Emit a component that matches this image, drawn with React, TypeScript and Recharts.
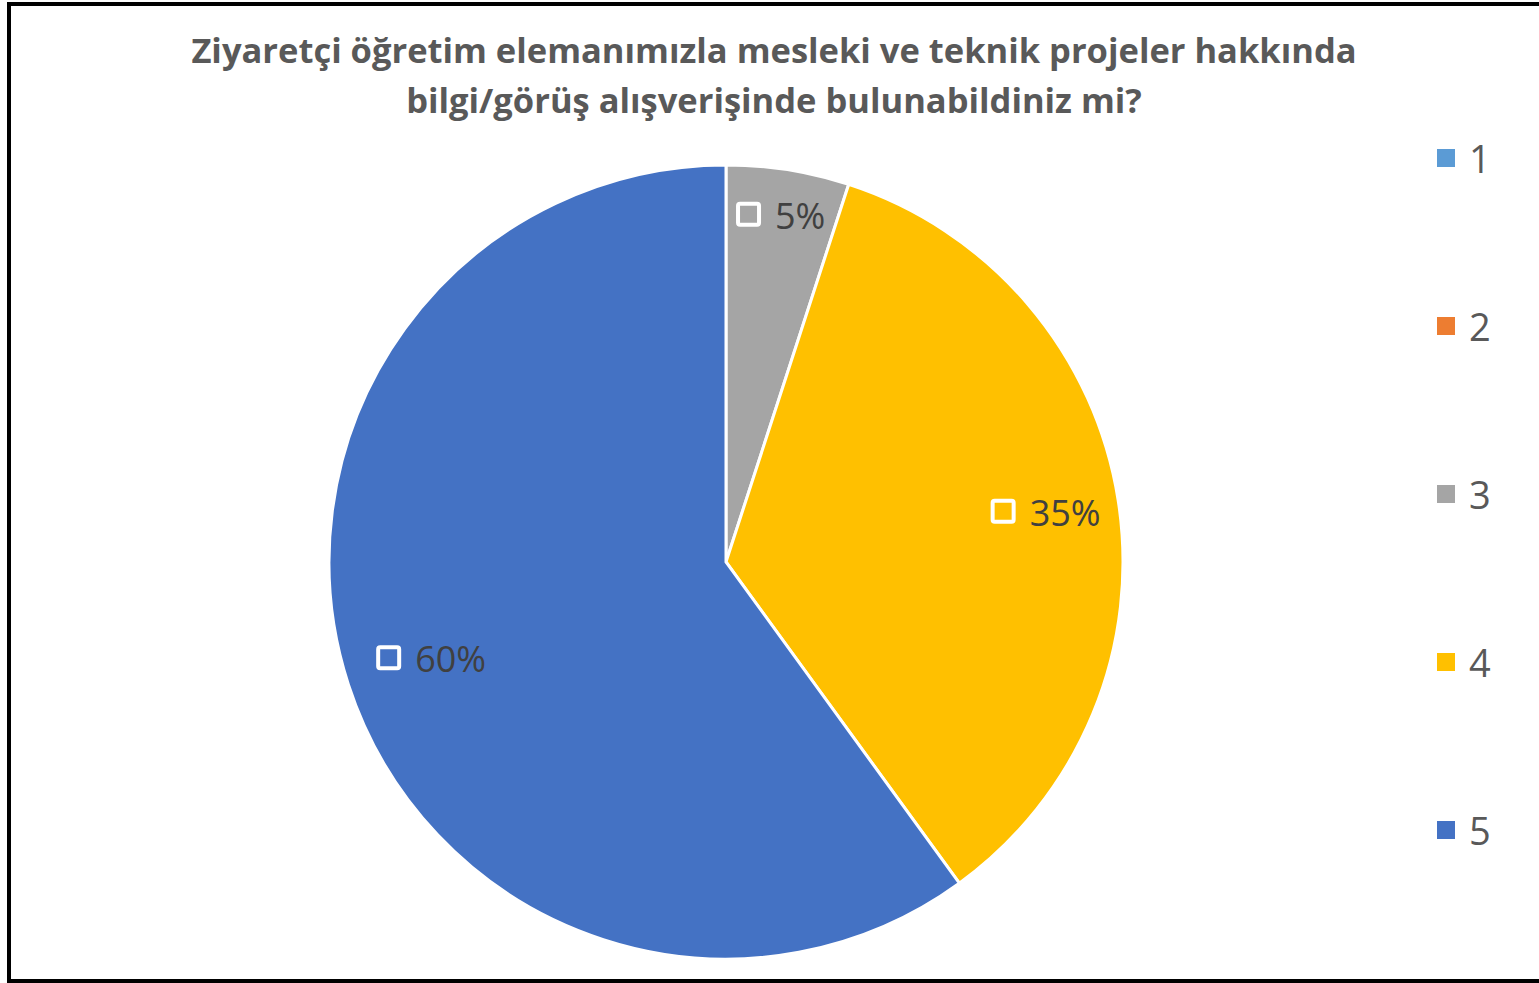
import React from 'react';
import { PieChart, Pie, Cell, Legend } from 'recharts';

const categories = ['1', '2', '3', '4', '5'];
const values = [0, 0, 5, 35, 60];
const colors = ['#5B9BD5', '#ED7D31', '#A5A5A5', '#FFC000', '#4472C4'];
const titleLines = [
  'Ziyaretçi öğretim elemanımızla mesleki ve teknik projeler hakkında',
  'bilgi/görüş alışverişinde bulunabildiniz mi?',
];

const data = categories.map((c, i) => ({ name: c, value: values[i] }));

const RAD = Math.PI / 180;
const FONT = '"Open Sans", "Noto Sans", sans-serif';
const labelRadiusFactor: Record<string, number> = { '3': 0.887, '4': 0.816, '5': 0.78 };

const renderLabel = (props: any) => {
  const { cx, cy, midAngle, outerRadius, percent, value } = props;
  const name = props.name ?? props.payload?.name;
  if (!value) return null;
  const f = labelRadiusFactor[name] ?? 0.82;
  const r = outerRadius * f;
  const x = cx + r * Math.cos(-midAngle * RAD);
  const y = cy + r * Math.sin(-midAngle * RAD);
  const text = `${Math.round(percent * 100)}%`;
  const fs = 36;
  const textW = [...text].reduce((s, ch) => s + (ch === '%' ? 0.85 : 0.57) * fs, 0);
  const sq = 25;
  const gap = 14;
  const total = sq + gap + textW;
  const left = x - total / 2;
  return (
    <g>
      <rect x={left + 2} y={y - sq / 2 + 2} width={sq - 4} height={sq - 4} rx={2} fill="none" stroke="#fff" strokeWidth={4} />
      <text x={left + sq + gap} y={y + 1} dominantBaseline="central" fontSize={fs} fill="#404040" fontFamily={FONT}>
        {text}
      </text>
    </g>
  );
};

const renderLegend = (props: any) => {
  const payload = props.payload || [];
  return (
    <div style={{ fontFamily: FONT }}>
      {payload.map((p: any, i: number) => (
        <div key={i} style={{ height: 168, display: 'flex', alignItems: 'center', position: 'relative' }}>
          <div style={{ width: 18, height: 18, background: p.color, marginRight: 14 }} />
          <span style={{ fontSize: 38, color: '#595959', lineHeight: '40px' }}>{p.value}</span>
        </div>
      ))}
    </div>
  );
};

export default function App() {
  return (
    <div style={{ position: 'absolute', left: 0, top: 0, width: 1539, height: 983, overflow: 'hidden', background: '#fff' }}>
      <div style={{ position: 'absolute', left: 0, top: 0 }}>
        <PieChart width={1539} height={983} margin={{ top: 0, right: 0, bottom: 0, left: 0 }}>
          <Pie
            data={data}
            dataKey="value"
            nameKey="name"
            cx={726}
            cy={562}
            outerRadius={397}
            startAngle={90}
            endAngle={-270}
            stroke="#fff"
            strokeWidth={3}
            label={renderLabel}
            labelLine={false}
            isAnimationActive={false}
          >
            {data.map((d, i) => (
              <Cell key={d.name} fill={colors[i]} />
            ))}
          </Pie>
          <Legend
            layout="vertical"
            align="right"
            verticalAlign="top"
            content={renderLegend}
            wrapperStyle={{ position: 'absolute', left: 1437, top: 74, width: 90 }}
          />
        </PieChart>
      </div>
      {titleLines.map((t, i) => (
        <div
          key={i}
          style={{
            position: 'absolute',
            left: 0,
            width: 1548,
            top: 25 + i * 50,
            height: 50,
            lineHeight: '50px',
            textAlign: 'center',
            fontFamily: FONT,
            fontWeight: 700,
            fontSize: 34.5,
            color: '#595959',
            whiteSpace: 'nowrap',
          }}
        >
          {t}
        </div>
      ))}
      <div
        style={{
          position: 'absolute',
          left: 7,
          top: 2,
          width: 1600,
          height: 981,
          border: '4px solid #000',
          boxSizing: 'border-box',
          pointerEvents: 'none',
        }}
      />
    </div>
  );
}
